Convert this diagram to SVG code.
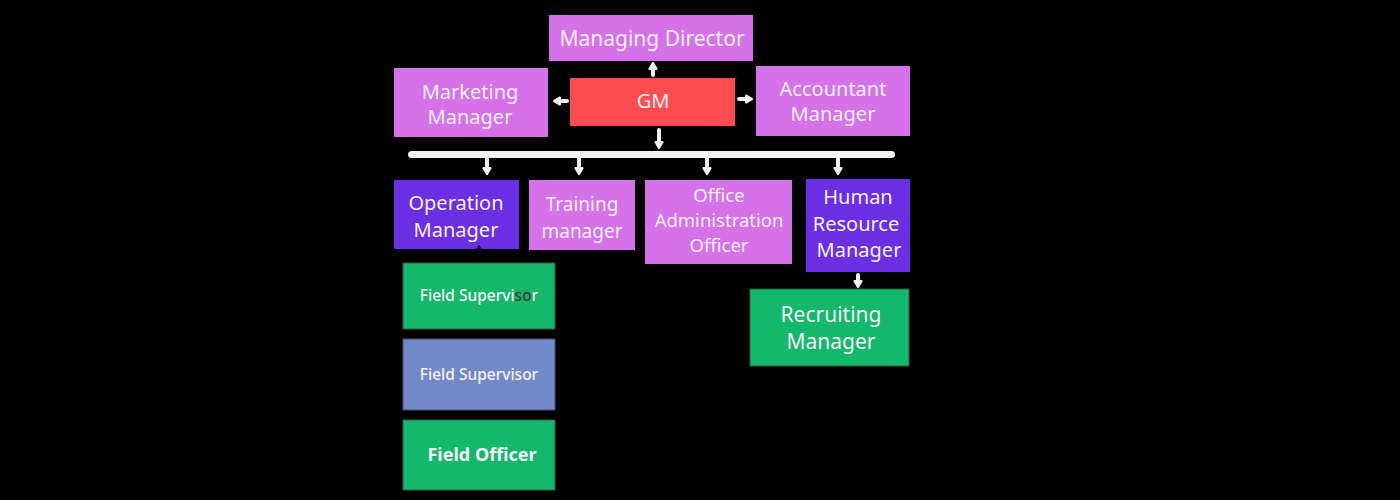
<svg xmlns="http://www.w3.org/2000/svg" width="1400" height="500" viewBox="0 0 1400 500">
<defs>
<style>
.bg{fill:#000}
.violet{fill:#d572ea}
.purple{fill:#6a2ee3}
.red{fill:#fd4c50}
.green{fill:#14b86a;stroke:#3a5a48;stroke-width:1}
.blue{fill:#7189c6;stroke:#4a5070;stroke-width:1}
text{font-family:"Noto Sans","Open Sans","DejaVu Sans",sans-serif;fill:#f6f0fb;text-anchor:middle}
.t21{font-size:21px}
.t20{font-size:20px}
.t19{font-size:19px}
.t18{font-size:18.5px}
.fs{font-size:15.5px;font-weight:500}
.fo{font-size:18px;font-weight:700}
.conn line{stroke:#f2f2f2;stroke-width:4;stroke-linecap:round;marker-end:url(#ah)}
</style>
<marker id="ah" viewBox="0 0 10 10" refX="5" refY="5" markerWidth="2.4" markerHeight="2.4" orient="auto" markerUnits="strokeWidth">
<path d="M2,1.5 L8,5 L2,8.5 Z" fill="#f2f2f2" stroke="#f2f2f2" stroke-width="2.5" stroke-linejoin="round"/>
</marker>
</defs>
<rect class="bg" x="0" y="0" width="1400" height="500"/>

<g id="connectors" class="conn">
<line x1="653" y1="75" x2="653" y2="66"/>
<line x1="567" y1="101" x2="557" y2="101"/>
<line x1="739" y1="99" x2="749" y2="99"/>
<line x1="659" y1="130" x2="659" y2="145"/>
<rect x="408" y="151" width="487" height="7" rx="3.5" fill="#f2f2f2" style="marker-end:none"/>
<line x1="487" y1="159" x2="487" y2="171"/>
<line x1="579" y1="159" x2="579" y2="171"/>
<line x1="707" y1="159" x2="707" y2="171"/>
<line x1="838" y1="159" x2="838" y2="171"/>
<line x1="858" y1="275" x2="858" y2="284"/>
</g>

<g id="managing-director">
<rect class="violet" x="549" y="15" width="204" height="46"/>
<text class="t21" x="652" y="46">Managing Director</text>
</g>

<g id="marketing-manager">
<rect class="violet" x="394" y="68" width="154" height="69"/>
<text class="t20" x="470" y="99">Marketing</text>
<text class="t20" x="470" y="124">Manager</text>
</g>

<g id="gm">
<rect class="red" x="570" y="78" width="165" height="48"/>
<text class="t20" x="653" y="108">GM</text>
</g>

<g id="accountant-manager">
<rect class="violet" x="756" y="66" width="154" height="70"/>
<text class="t20" x="833" y="96">Accountant</text>
<text class="t20" x="833" y="121">Manager</text>
</g>

<g id="operation-manager">
<rect class="purple" x="394" y="180" width="125" height="69"/>
<text class="t20" x="456" y="210">Operation</text>
<text class="t20" x="456" y="237">Manager</text>
<path d="M476,249 L479,245 L482,249 Z" fill="#1a0f2e"/>
</g>

<g id="training-manager">
<rect class="violet" x="529" y="180" width="106" height="70"/>
<text class="t19" x="582" y="211">Training</text>
<text class="t19" x="582" y="238">manager</text>
</g>

<g id="office-administration-officer">
<rect class="violet" x="645" y="180" width="147" height="84"/>
<text class="t18" x="719" y="202">Office</text>
<text class="t18" x="719" y="227">Administration</text>
<text class="t18" x="719" y="252">Officer</text>
</g>

<g id="human-resource-manager">
<rect class="purple" x="806" y="179" width="104" height="93"/>
<text class="t20" x="858" y="204">Human</text>
<text class="t20" x="856" y="231">Resource</text>
<text class="t20" x="859" y="257">Manager</text>
</g>

<g id="field-supervisor-1">
<rect class="green" x="403" y="263" width="152" height="66"/>
<text class="fs" x="479" y="301">Field Supervi<tspan fill="#3a3a3a">so</tspan>r</text>
</g>

<g id="field-supervisor-2">
<rect class="blue" x="403" y="339" width="152" height="71"/>
<text class="fs" x="479" y="380">Field Supervisor</text>
</g>

<g id="field-officer">
<rect class="green" x="403" y="420" width="152" height="70"/>
<text class="fo" x="482" y="461">Field Officer</text>
</g>

<g id="recruiting-manager">
<rect class="green" x="750" y="289" width="159" height="77"/>
<text class="t21" x="831" y="322">Recruiting</text>
<text class="t21" x="831" y="349">Manager</text>
</g>
</svg>
